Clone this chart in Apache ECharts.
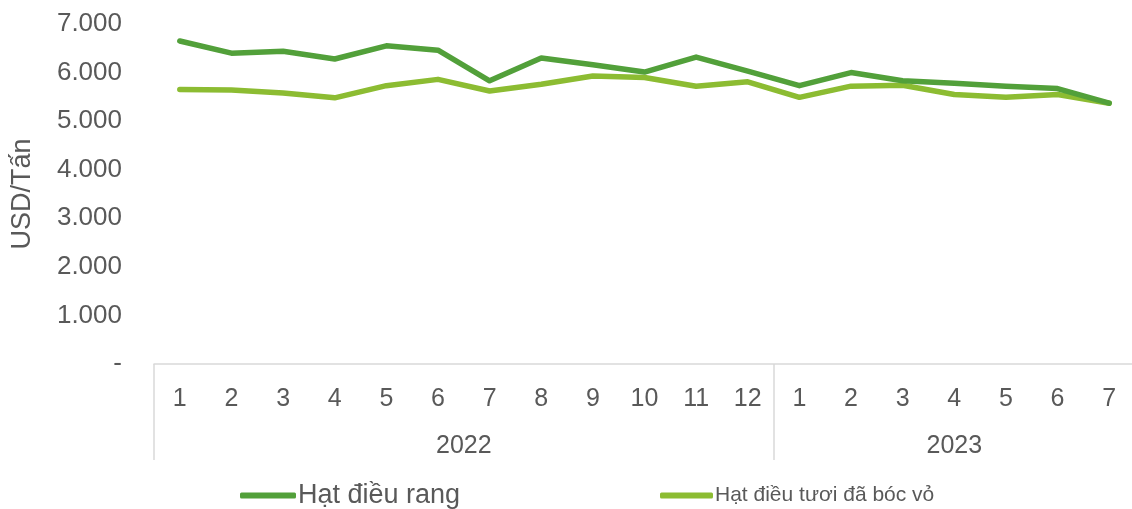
<!DOCTYPE html>
<html>
<head>
<meta charset="utf-8">
<script src="https://cdn.jsdelivr.net/npm/echarts@6/dist/echarts.min.js"></script>
<style>
  html, body { margin: 0; padding: 0; background: #fff; }
  #chart { width: 1132px; height: 509px; }
</style>
</head>
<body>
<div id="chart"></div>
<script>
// Monthly export prices, USD per tonne
const years = ['2022', '2023'];
const months2022 = ['1','2','3','4','5','6','7','8','9','10','11','12'];
const months2023 = ['1','2','3','4','5','6','7'];
const seriesNames = ['Hạt điều rang', 'Hạt điều tươi đã bóc vỏ'];
const roasted = [6650, 6400, 6440, 6280, 6550, 6460, 5830, 6300, 6160, 6010, 6320, 6030,
                 5730, 6000, 5830, 5780, 5720, 5670, 5370];
const shelled = [5650, 5640, 5580, 5480, 5730, 5860, 5620, 5760, 5930, 5900, 5720, 5810,
                 5490, 5720, 5740, 5550, 5490, 5550, 5370];
const yTicks = [0, 1000, 2000, 3000, 4000, 5000, 6000, 7000];

const months = months2022.concat(months2023);
const yearSizes = [months2022.length, months2023.length];

// Year row: half-month slots so each year label sits in the middle of its span
const halfSlots = months.length * 2 + 1;
const yearRow = new Array(halfSlots).fill('');
let start = 0;
yearSizes.forEach((n, i) => {
  yearRow[start * 2 + n] = years[i];
  start += n;
});
// Boundaries between year groups (category indices)
const groupStarts = [0, months2022.length];

const font = 'Liberation Sans, Arial, sans-serif';
const textColor = '#595959';
const darkGreen = '#52a03a';
const lightGreen = '#8cbc32';

const chart = echarts.init(document.getElementById('chart'), null, { renderer: 'canvas' });
chart.setOption({
  animation: false,
  textStyle: { fontFamily: font },
  grid: { left: 154, width: 981, top: 24, bottom: 145, containLabel: false, outerBoundsMode: 'none' },
  xAxis: [
    {
      type: 'category',
      data: months,
      boundaryGap: true,
      axisLine: { show: true, lineStyle: { color: '#d9d9d9', width: 1.5 } },
      axisTick: {
        show: true,
        length: 96,
        lineStyle: { color: '#d9d9d9', width: 1.5 },
        interval: (idx) => groupStarts.indexOf(idx) >= 0
      },
      axisLabel: { interval: 0, color: textColor, fontSize: 25, fontFamily: font, margin: 23 },
      splitLine: { show: false }
    },
    {
      type: 'category',
      data: yearRow,
      boundaryGap: false,
      position: 'bottom',
      axisLine: { show: false },
      axisTick: { show: false },
      axisLabel: { interval: 0, color: textColor, fontSize: 25, fontFamily: font, margin: 70 },
      splitLine: { show: false }
    }
  ],
  yAxis: {
    type: 'value',
    min: yTicks[0],
    max: yTicks[yTicks.length - 1],
    interval: yTicks[1] - yTicks[0],
    name: 'USD/Tấn',
    nameLocation: 'middle',
    nameRotate: 90,
    nameGap: 118,
    nameTextStyle: { color: textColor, fontSize: 27, fontFamily: font },
    axisLine: { show: false },
    axisTick: { show: false },
    splitLine: { show: false },
    axisLabel: {
      color: textColor,
      fontSize: 26,
      fontFamily: font,
      margin: 32,
      formatter: (v) => v === 0 ? '-' : v.toLocaleString('de-DE')
    }
  },
  legend: [
    {
      data: [seriesNames[0]],
      left: 235,
      top: 477,
      icon: 'roundRect',
      itemWidth: 56,
      itemHeight: 6,
      textStyle: { color: textColor, fontSize: 27, fontFamily: font, padding: [0, 0, 0, -3] }
    },
    {
      data: [seriesNames[1]],
      left: 655,
      top: 480,
      icon: 'roundRect',
      itemWidth: 53,
      itemHeight: 6,
      textStyle: { color: textColor, fontSize: 21, fontFamily: font, padding: [0, 0, 0, -3] }
    }
  ],
  series: [
    {
      name: seriesNames[0],
      type: 'line',
      data: roasted,
      symbol: 'none',
      lineStyle: { color: darkGreen, width: 5.5, cap: 'round', join: 'round' },
      itemStyle: { color: darkGreen },
      z: 3
    },
    {
      name: seriesNames[1],
      type: 'line',
      data: shelled,
      symbol: 'none',
      lineStyle: { color: lightGreen, width: 5.5, cap: 'round', join: 'round' },
      itemStyle: { color: lightGreen },
      z: 2
    }
  ]
});
</script>
</body>
</html>
